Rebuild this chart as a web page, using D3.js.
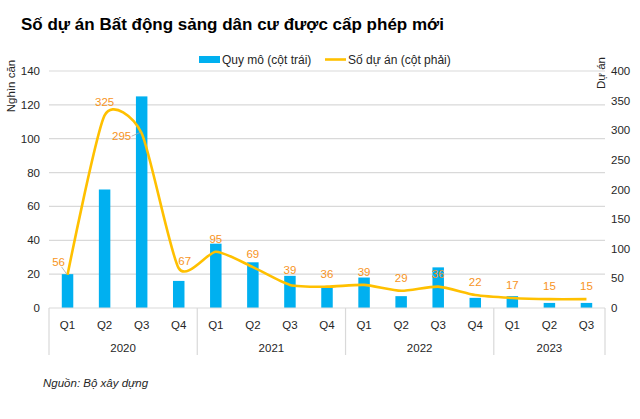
<!DOCTYPE html>
<html>
<head>
<meta charset="utf-8">
<script src="https://cdn.jsdelivr.net/npm/d3@7"></script>
<style>
  body { margin: 0; background: #fff; }
  svg { display: block; font-family: "Liberation Sans", Arial, sans-serif; }
  .grid line { stroke: #d9d9d9; stroke-width: 1.2; }
  .tick-lbl { font-size: 11.5px; fill: #262626; }
</style>
</head>
<body>
<div id="chart"></div>
<script>
// quarterly data, 2020 Q1 .. 2023 Q3
const years = ['2020', '2021', '2022', '2023'];
const quarters = ['Q1','Q2','Q3','Q4','Q1','Q2','Q3','Q4','Q1','Q2','Q3','Q4','Q1','Q2','Q3'];
const quarterYear = ['2020','2020','2020','2020','2021','2021','2021','2021','2022','2022','2022','2022','2023','2023','2023'];
const scaleK = [20, 70, 125, 16, 38, 27, 19, 13, 18, 7, 24, 6, 7, 3, 3];       // nghìn căn (left)
const projects = [56, 325, 295, 67, 95, 69, 39, 36, 39, 29, 36, 22, 17, 15, 15]; // số dự án (right)
const leftTicks = [0, 20, 40, 60, 80, 100, 120, 140];
const rightTicks = [0, 50, 100, 150, 200, 250, 300, 350, 400];

const width = 640, height = 419;
const margin = {top: 71, right: 35, bottom: 111, left: 49};
const innerW = width - margin.left - margin.right;
const innerH = height - margin.top - margin.bottom;

const BAR = '#00b0f0', LINE = '#ffc000', LABEL = '#f7941d';

// label nudges where Excel moved them off the default spot
const labelNudge = new Map([[0, [-9, -13]], [2, [-20, 3]], [3, [6, -7]], [6, [0, -15]]]);

const svg = d3.select('#chart').append('svg')
  .attr('width', width).attr('height', height);

svg.append('text')
  .attr('x', 21).attr('y', 30)
  .attr('font-size', 17).attr('font-weight', 'bold').attr('fill', '#000')
  .text('Số dự án Bất động sảng dân cư được cấp phép mới');

const plot = svg.append('g').attr('transform', `translate(${margin.left},${margin.top})`);

const idx = d3.range(quarters.length);
const x = d3.scaleBand().domain(idx).range([0, innerW]).paddingInner(0.69).paddingOuter(0.345);
const yL = d3.scaleLinear().domain([0, 140]).range([innerH, 0]);
const yR = d3.scaleLinear().domain([0, 400]).range([innerH, 0]);

// gridlines
plot.append('g').attr('class', 'grid')
  .selectAll('line').data(leftTicks.slice(1)).join('line')
  .attr('x1', 0).attr('x2', innerW)
  .attr('y1', d => yL(d)).attr('y2', d => yL(d));

// left axis labels
plot.append('g').selectAll('text').data(leftTicks).join('text')
  .attr('class', 'tick-lbl')
  .attr('x', -9).attr('y', d => yL(d)).attr('dy', '0.35em')
  .attr('text-anchor', 'end')
  .text(d => d);

// right axis labels
plot.append('g').selectAll('text').data(rightTicks).join('text')
  .attr('class', 'tick-lbl')
  .attr('x', innerW + 6).attr('y', d => yR(d)).attr('dy', '0.35em')
  .attr('text-anchor', 'start')
  .text(d => d);

svg.append('text')
  .attr('transform', 'translate(15,86) rotate(-90)')
  .attr('text-anchor', 'middle').attr('font-size', 11.5).attr('fill', '#262626')
  .text('Nghìn căn');
svg.append('text')
  .attr('transform', 'translate(605,73) rotate(-90)')
  .attr('text-anchor', 'middle').attr('font-size', 11.5).attr('fill', '#262626')
  .text('Dự án');

// bars
plot.append('g').selectAll('rect').data(idx).join('rect')
  .attr('x', i => x(i))
  .attr('width', x.bandwidth())
  .attr('y', i => yL(scaleK[i]))
  .attr('height', i => innerH - yL(scaleK[i]))
  .attr('fill', BAR);

// category axis
const step = x.step();
const cx = i => x(i) + x.bandwidth() / 2;
plot.append('line')
  .attr('x1', 0).attr('x2', innerW).attr('y1', innerH).attr('y2', innerH)
  .attr('stroke', '#d9d9d9').attr('stroke-width', 1.2);

const yearStarts = years.map(yr => quarterYear.indexOf(yr));
const seps = yearStarts.map(i => x(i) - x.paddingOuter() * step).concat([innerW]);
plot.append('g').selectAll('line').data(seps).join('line')
  .attr('x1', d => d).attr('x2', d => d)
  .attr('y1', innerH).attr('y2', innerH + 47)
  .attr('stroke', '#d9d9d9').attr('stroke-width', 1.2);

plot.append('g').selectAll('text').data(idx).join('text')
  .attr('class', 'tick-lbl')
  .attr('x', i => cx(i)).attr('y', innerH + 17).attr('dy', '0.35em')
  .attr('text-anchor', 'middle')
  .text(i => quarters[i]);

plot.append('g').selectAll('text').data(years).join('text')
  .attr('class', 'tick-lbl')
  .attr('x', (yr, k) => (seps[k] + seps[k + 1]) / 2)
  .attr('y', innerH + 40).attr('dy', '0.35em')
  .attr('text-anchor', 'middle')
  .text(d => d);

// smoothed line (Excel-like spline)
const line = d3.line()
  .x(i => cx(i))
  .y(i => yR(projects[i]))
  .curve(d3.curveCardinal.tension(0.35));

plot.append('path')
  .datum(idx)
  .attr('d', line)
  .attr('fill', 'none')
  .attr('stroke', LINE)
  .attr('stroke-width', 2.6);

// leader lines for the moved labels
[0, 2].forEach(i => {
  const [dx, dy] = labelNudge.get(i);
  const px = cx(i), py = yR(projects[i]);
  const lx = i === 2 ? px + dx + 10 : px + dx + 3;
  const ly = i === 2 ? py + dy : py + dy + 5;
  plot.append('line')
    .attr('x1', lx).attr('y1', ly).attr('x2', px - 1).attr('y2', py - 1)
    .attr('stroke', '#a6a6a6').attr('stroke-width', 0.8);
});

plot.append('g').selectAll('text').data(idx).join('text')
  .attr('x', i => cx(i) + (labelNudge.get(i) || [0, -13])[0])
  .attr('y', i => yR(projects[i]) + (labelNudge.get(i) || [0, -13])[1])
  .attr('dy', '0.35em')
  .attr('text-anchor', 'middle')
  .attr('font-size', 11.5)
  .attr('fill', LABEL)
  .text(i => projects[i]);

// legend
const leg = svg.append('g').attr('font-size', 12).attr('fill', '#262626');
leg.append('rect').attr('x', 199).attr('y', 56).attr('width', 21).attr('height', 7).attr('fill', BAR);
leg.append('text').attr('x', 222).attr('y', 60).attr('dy', '0.35em').text('Quy mô (cột trái)');
leg.append('line').attr('x1', 325).attr('x2', 346).attr('y1', 59.5).attr('y2', 59.5)
  .attr('stroke', LINE).attr('stroke-width', 2.6);
leg.append('text').attr('x', 348).attr('y', 60).attr('dy', '0.35em').text('Số dự án (cột phải)');

svg.append('text')
  .attr('x', 43).attr('y', 383).attr('dy', '0.35em')
  .attr('font-size', 11.5).attr('font-style', 'italic').attr('fill', '#262626')
  .text('Nguồn: Bộ xây dựng');
</script>
</body>
</html>
